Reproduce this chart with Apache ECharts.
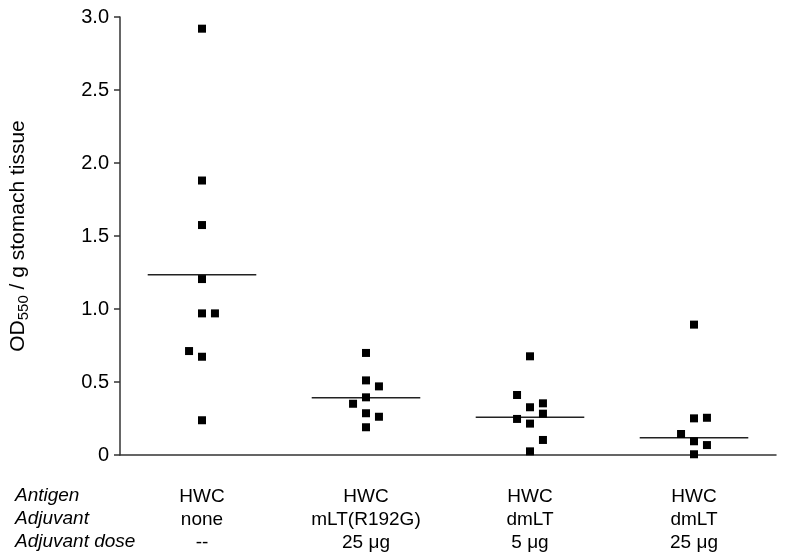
<!DOCTYPE html>
<html><head><meta charset="utf-8">
<script src="https://cdn.jsdelivr.net/npm/echarts@6/dist/echarts.min.js"></script>
<style>html,body{margin:0;padding:0;background:#fff}#c{width:785px;height:559px}</style>
</head><body><div id="c"></div>
<script>
// ---- data ----
var antigen = ['HWC', 'HWC', 'HWC', 'HWC'];
var adjuvant = ['none', 'mLT(R192G)', 'dmLT', 'dmLT'];
var adjuvantDose = ['--', '25 μg', '5 μg', '25 μg'];
var rowHeaders = ['Antigen', 'Adjuvant', 'Adjuvant dose'];
var yTicks = [0, 0.5, 1.0, 1.5, 2.0, 2.5, 3.0];

var group1 = [2.92, 1.88, 1.575, 1.205, 0.97, 0.97, 0.712, 0.673, 0.238];
var group1Jitter = [0, 0, 0, 0, 0, 1, -1, 0, 0];
var group2 = [0.699, 0.511, 0.47, 0.395, 0.351, 0.286, 0.262, 0.19];
var group2Jitter = [0, 0, 1, 0, -1, 0, 1, 0];
var group3 = [0.676, 0.411, 0.354, 0.327, 0.283, 0.247, 0.215, 0.103, 0.025];
var group3Jitter = [0, -1, 1, 0, 1, -1, 0, 1, 0];
var group4 = [0.893, 0.251, 0.255, 0.144, 0.094, 0.068, 0.005];
var group4Jitter = [0, 0, 1, -1, 0, 1, 0];
var means = [1.235, 0.392, 0.258, 0.118];

// ---- build ----
var groups = [group1, group2, group3, group4];
var jitters = [group1Jitter, group2Jitter, group3Jitter, group4Jitter];
var JSTEP = 0.079, HALF = 0.331;
var pts = [];
groups.forEach(function (g, gi) {
  g.forEach(function (v, i) { pts.push([gi + 0.5 + jitters[gi][i] * JSTEP, v]); });
});
var series = [{
  type: 'scatter', data: pts, symbol: 'rect', symbolSize: 8,
  itemStyle: { color: '#000', opacity: 1 }, silent: true, z: 3, xAxisIndex: 0
}];
means.forEach(function (m, gi) {
  series.push({
    type: 'line', data: [[gi + 0.5 - HALF, m], [gi + 0.5 + HALF, m]],
    showSymbol: false, symbol: 'none', lineStyle: { color: '#222', width: 1.5 },
    silent: true, z: 2, xAxisIndex: 0
  });
});
var catLabels = antigen.map(function (a, i) { return a + '\n' + adjuvant[i] + '\n' + adjuvantDose[i]; });
series.push({ type: 'scatter', data: [], xAxisIndex: 1 });

var FONT = 'Liberation Sans, Arial, sans-serif';
var chart = echarts.init(document.getElementById('c'), null, { renderer: 'canvas' });
chart.setOption({
  animation: false,
  backgroundColor: '#fff',
  grid: { left: 117, right: 9, top: 17, bottom: 104, containLabel: false },
  xAxis: [{
    type: 'value', min: 0, max: 4, interval: 1,
    axisLine: { show: true, onZero: false, lineStyle: { color: '#333', width: 1.5 } },
    axisTick: { show: false }, axisLabel: { show: false }, splitLine: { show: false }
  }, {
    type: 'category', data: catLabels, position: 'bottom',
    axisLine: { show: false }, axisTick: { show: false }, splitLine: { show: false },
    axisLabel: { margin: 30, color: '#000', fontSize: 19, lineHeight: 23, fontFamily: FONT, align: 'center' }
  }],
  yAxis: {
    type: 'value', min: 0, max: 3, interval: 0.5,
    axisLine: { show: true, lineStyle: { color: '#333', width: 1.5 } },
    axisTick: { show: true, length: 6, lineStyle: { color: '#333', width: 1.5 } },
    splitLine: { show: false },
    axisLabel: {
      margin: 11, color: '#000', fontSize: 20, fontFamily: FONT,
      formatter: function (v) { return v === 0 ? '0' : v.toFixed(1); }
    },
    name: '{a|OD}{b|550}{a| / g stomach tissue}',
    nameLocation: 'middle', nameRotate: 90, nameGap: 89,
    nameTextStyle: {
      rich: {
        a: { fontSize: 21, fontFamily: FONT, color: '#000', lineHeight: 25 },
        b: { fontSize: 15, fontFamily: FONT, color: '#000', verticalAlign: 'bottom', padding: [8, 0, 0, 0], lineHeight: 17 }
      }
    }
  },
  graphic: rowHeaders.map(function (t, i) {
    return {
      type: 'text', left: 15, top: 486 + i * 23,
      style: { text: t, font: 'italic 19px ' + FONT, fill: '#000' }
    };
  }),
  series: series
});
</script></body></html>
